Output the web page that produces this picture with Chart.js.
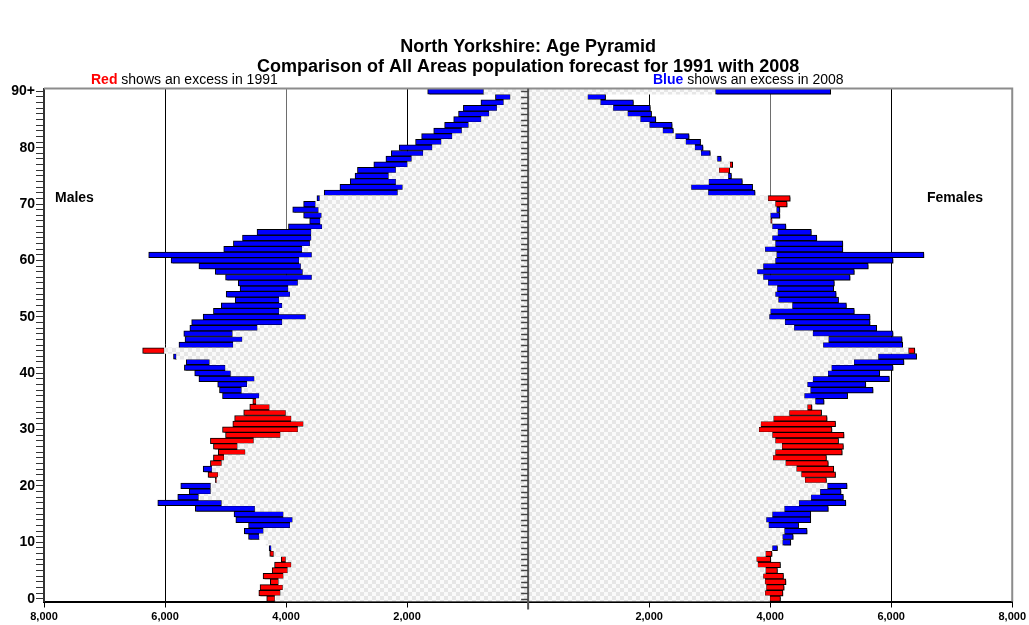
<!DOCTYPE html>
<html>
<head>
<meta charset="utf-8">
<script src="https://cdn.jsdelivr.net/npm/chart.js@4/dist/chart.umd.min.js"></script>
<style>
html,body{margin:0;padding:0;background:#fff;}
#wrap{width:1029px;height:625px;position:relative;}
</style>
</head>
<body>
<div id="wrap"><canvas id="c" width="1029" height="625"></canvas></div>
<script>
// ---- data (age 0 .. 90+) ----
const ages = Array.from({length: 91}, (_, i) => i);
const tickAges = [0, 10, 20, 30, 40, 50, 60, 70, 80, 90];
const tickTexts = ['0', '10', '20', '30', '40', '50', '60', '70', '80', '90+'];
const xTickValues = [-8000, -6000, -4000, -2000, 0, 2000, 4000, 6000, 8000];
const titleLines = ['North Yorkshire: Age Pyramid', 'Comparison of All Areas population forecast for 1991 with 2008'];

const male1991 = [4320,4450,4430,4260,4380,4230,4190,4080,4270,4240,
  4330,4440,4370,3930,3890,4040,4510,5060,5440,5240,
  5240,5170,5290,5220,5250,5200,5120,5200,5250,5000,
  5050,4880,4850,4700,4600,4550,4440,4730,4640,4520,
  4910,5000,5260,5810,6370,4870,4720,4880,4470,4060,
  3670,4110,4060,4110,3930,3960,3800,3570,3720,3750,
  3780,3570,3730,3600,3580,3580,3400,3430,3410,3460,
  3510,3440,2150,2070,2180,2300,2180,1990,1920,1730,
  1580,1430,1250,1090,980,770,640,510,400,290,730];
const male2008 = [4180,4090,4050,4120,4040,3970,3910,4000,4200,4280,
  4330,4620,4690,4620,4830,4860,5500,6120,5790,5600,
  5740,5140,5120,5370,5060,5020,4670,4800,4530,4090,
  3800,3710,3910,4000,4270,4490,5050,5100,5130,5440,
  5510,5680,5650,5860,6010,5770,5670,5690,5590,5560,
  5370,5200,5070,4840,4990,4760,4790,5000,5170,5440,
  5900,6270,5030,4870,4720,4480,3960,3610,3710,3890,
  3710,3490,3370,3110,2940,2860,2820,2550,2350,2260,
  2130,1860,1760,1560,1380,1230,1150,1070,780,540,1660];
const female1991 = [4170,4210,4230,4260,4220,4120,4170,4010,4030,4030,
  4200,4200,4230,3970,3930,4030,4230,4470,4670,4820,
  4940,4930,5080,5050,4960,4930,5190,5210,5130,5220,
  5020,5080,4940,4850,4690,4740,4560,4660,4610,4700,
  4950,5010,5380,5780,6390,4870,4960,4700,4390,4240,
  3980,4000,4360,4130,4080,4110,3960,3880,3780,3880,
  4080,4100,3910,4080,4030,4120,4030,4030,4000,4100,
  4280,4330,2970,2690,2980,3300,3330,3380,3120,2850,
  2750,2600,2430,2220,2000,1850,1640,1400,1190,980,3090];
const female2008 = [3990,3910,3930,3910,3880,3920,3790,3770,3920,4120,
  4340,4380,4610,4470,4670,4670,4960,5250,5210,5170,
  5270,4570,4510,4430,4250,4040,4080,4190,4080,4030,
  3810,3840,4050,4310,4610,4890,5280,5700,5580,5970,
  5810,6030,6210,6420,6280,6190,6180,6030,5760,5650,
  5650,5390,5260,5130,5090,5050,5060,5320,5390,5620,
  6030,6540,5200,5200,4770,4680,4260,4000,4160,4160,
  4080,3960,3750,3710,3540,3360,3150,3330,3190,3010,
  2890,2850,2660,2400,2380,2110,2040,2020,1740,1280,5000];

// ---- derived series ----
const maleBase = male1991.map((v, i) => -Math.min(v, male2008[i]));
const maleExcess = male1991.map((v, i) => { const d = Math.abs(male2008[i] - v); return d === 0 ? null : -d; });
const maleColors = male1991.map((v, i) => male2008[i] > v ? '#0000ff' : '#ff0000');
const femaleBase = female1991.map((v, i) => Math.min(v, female2008[i]));
const femaleExcess = female1991.map((v, i) => { const d = Math.abs(female2008[i] - v); return d === 0 ? null : d; });
const femaleColors = female1991.map((v, i) => female2008[i] > v ? '#0000ff' : '#ff0000');

// checker pattern
const pc = document.createElement('canvas');
pc.width = 8; pc.height = 8;
const pctx = pc.getContext('2d');
pctx.fillStyle = '#fafafa'; pctx.fillRect(0, 0, 8, 8);
pctx.fillStyle = '#e6e6e6'; pctx.fillRect(0, 0, 4, 4); pctx.fillRect(4, 4, 4, 4);
const ctx = document.getElementById('c').getContext('2d');
const checker = ctx.createPattern(pc, 'repeat');

const FONT = "'Liberation Sans', Arial, sans-serif";

const shadowPlugin = {
  id: 'shadow',
  beforeDatasetDraw(chart, args) {
    if (args.index >= 2) {
      const c = chart.ctx; c.save();
      c.shadowColor = 'rgba(0,0,0,0.45)';
      c.shadowOffsetX = 1.5; c.shadowOffsetY = 1.5; c.shadowBlur = 0;
    }
  },
  afterDatasetDraw(chart, args) {
    if (args.index >= 2) chart.ctx.restore();
  }
};

const decor = {
  id: 'decor',
  afterDraw(chart) {
    const c = chart.ctx, a = chart.chartArea, xs = chart.scales.x, ys = chart.scales.y;
    c.save();
    // top & right frame
    c.strokeStyle = '#8c8c8c'; c.lineWidth = 2;
    c.beginPath(); c.moveTo(a.left, a.top); c.lineTo(a.right, a.top); c.lineTo(a.right, a.bottom); c.stroke();
    // central axis
    const x0 = xs.getPixelForValue(0);
    c.strokeStyle = '#555'; c.lineWidth = 2;
    c.beginPath(); c.moveTo(x0, a.top); c.lineTo(x0, a.bottom + 8); c.stroke();
    c.lineWidth = 1.5; c.strokeStyle = '#444';
    ages.forEach((ag, i) => {
      const y = Math.round(ys.getPixelForValue(i)) + 0.5;
      c.beginPath(); c.moveTo(x0 - 7, y); c.lineTo(x0, y); c.stroke();
    });
    // title
    c.textBaseline = 'middle';
    c.textAlign = 'center';
    c.fillStyle = '#000';
    c.font = 'bold 18px ' + FONT;
    c.fillText(titleLines[0], x0, 47);
    c.fillText(titleLines[1], x0, 67);
    // annotations
    c.textAlign = 'left';
    c.font = 'bold 14px ' + FONT;
    c.fillStyle = '#ff0000';
    c.fillText('Red', 91, 80);
    let w = c.measureText('Red').width;
    c.font = '14px ' + FONT; c.fillStyle = '#000';
    c.fillText(' shows an excess in 1991', 91 + w, 80);
    c.font = 'bold 14px ' + FONT; c.fillStyle = '#0000ff';
    c.fillText('Blue', 653, 80);
    w = c.measureText('Blue').width;
    c.font = '14px ' + FONT; c.fillStyle = '#000';
    c.fillText(' shows an excess in 2008', 653 + w, 80);
    c.font = 'bold 14px ' + FONT;
    c.fillText('Males', 55, 198);
    c.fillText('Females', 927, 198);
    c.restore();
  }
};

new Chart(ctx, {
  type: 'bar',
  data: {
    labels: ages,
    datasets: [
      { label: 'Males common', data: maleBase, backgroundColor: checker, borderWidth: 0 },
      { label: 'Females common', data: femaleBase, backgroundColor: checker, borderWidth: 0 },
      { label: 'Males excess', data: maleExcess, backgroundColor: maleColors, borderColor: '#000', borderWidth: 1, borderSkipped: false },
      { label: 'Females excess', data: femaleExcess, backgroundColor: femaleColors, borderColor: '#000', borderWidth: 1, borderSkipped: false }
    ]
  },
  options: {
    indexAxis: 'y',
    responsive: false,
    animation: false,
    layout: { padding: { top: 88.5, right: 13, bottom: 1.5, left: 0 } },
    datasets: { bar: { barPercentage: 1, categoryPercentage: 1 } },
    plugins: {
      legend: { display: false },
      tooltip: { enabled: false },
      title: { display: false }
    },
    scales: {
      x: {
        type: 'linear', min: -8000, max: 8000, stacked: true,
        afterBuildTicks: s => { s.ticks = xTickValues.map(v => ({ value: v })); },
        ticks: {
          color: '#000', font: { family: FONT, size: 11, weight: 'bold' }, padding: 3, maxRotation: 0,
          callback: v => v === 0 ? '' : Math.abs(v).toLocaleString('en-US')
        },
        grid: {
          color: c => { const v = Math.abs(c.tick.value); return (v > 0 && v < 8000) ? (v === 4000 ? '#6e6e6e' : '#000') : 'rgba(0,0,0,0)'; },
          tickColor: '#000', tickLength: 6, lineWidth: 1
        },
        border: { display: true, color: '#000', width: 2 },
        afterFit: s => { s.height = 22; }
      },
      y: {
        type: 'category', reverse: true, stacked: true,
        ticks: {
          autoSkip: false, color: '#000', padding: 1,
          font: { family: FONT, size: 14, weight: 'bold' },
          callback: (v, i) => { const k = tickAges.indexOf(ages[i]); return k >= 0 ? tickTexts[k] : ''; }
        },
        grid: { offset: false, drawOnChartArea: false, tickLength: 8, color: '#333', tickColor: '#333', lineWidth: 1 },
        border: { display: true, color: '#333', width: 2 },
        afterFit: s => { s.width = 44; }
      }
    }
  },
  plugins: [shadowPlugin, decor]
});
</script>
</body>
</html>
